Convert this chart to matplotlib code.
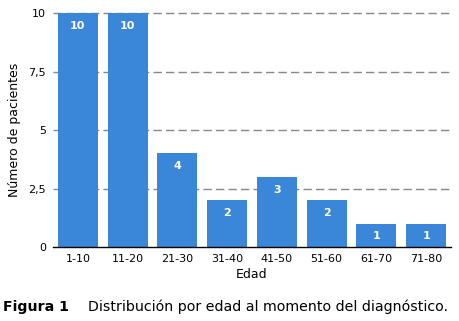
import numpy as np
import matplotlib.pyplot as plt

# age groups and patient counts
categorias = ["1-10", "11-20", "21-30", "31-40", "41-50", "51-60", "61-70", "71-80"]
pacientes = [10, 10, 4, 2, 3, 2, 1, 1]
yticks = [0, 2.5, 5, 7.5, 10]
ytick_labels = ["0", "2,5", "5", "7,5", "10"]

fig = plt.figure(figsize=(4.6, 3.21), dpi=100)
ax = fig.add_axes([53 / 460, 0.2305, 398 / 460, 0.729])

x = np.arange(len(categorias))
bars = ax.bar(x, pacientes, width=0.8, color="#3a86d8", zorder=3)

for xi, v in zip(x, pacientes):
    ax.text(xi, v - 0.55, str(v), ha="center", va="center", color="white",
            fontsize=8, fontweight="bold", zorder=4)

ax.set_xlim(-0.5, len(categorias) - 0.5)
ax.set_ylim(0, 10)
ax.set_xticks(x)
ax.set_xticklabels(categorias, fontsize=8)
ax.set_yticks(yticks)
ax.set_yticklabels(ytick_labels, fontsize=8)
ax.tick_params(axis="both", length=0, pad=5)

for yv in yticks[1:]:
    ax.axhline(yv, color="#888888", linestyle=(0, (6, 3)), linewidth=1.0, zorder=1,
               clip_on=False)

for s in ["top", "right", "left"]:
    ax.spines[s].set_visible(False)
ax.spines["bottom"].set_color("black")
ax.spines["bottom"].set_linewidth(1.0)
ax.spines["bottom"].set_zorder(5)

ax.set_xlabel("Edad", fontsize=9, labelpad=3)
ax.set_ylabel("Número de pacientes", fontsize=9, labelpad=5)

fig.text(0.007, 0.045, "Figura 1", fontsize=10.2, fontweight="bold", ha="left", va="center")
fig.text(88 / 460, 0.045, "Distribución por edad al momento del diagnóstico.", fontsize=10.2,
         ha="left", va="center")

plt.savefig("out.png", dpi=100)
